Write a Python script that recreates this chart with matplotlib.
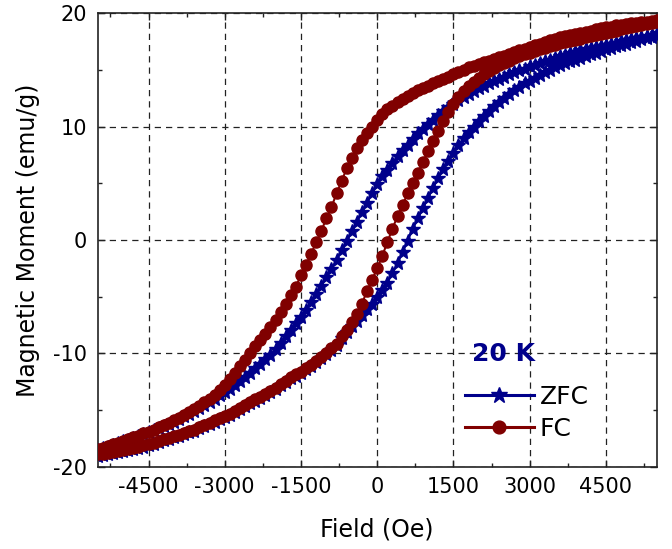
import matplotlib
matplotlib.use("Agg")
import matplotlib.pyplot as plt
from matplotlib.ticker import MultipleLocator
from matplotlib.lines import Line2D

# applied field setpoints (Oe), same sweep for both branches
field = list(range(-5500, 5501, 100))

# FC loop, branch swept from +5500 down to -5500 (listed against rising field)
fc_down = [
    -18.4, -18.3, -18.15, -18.0, -17.85, -17.7, -17.55, -17.4, -17.25, -17.05,
    -16.9, -16.7, -16.5, -16.3, -16.1, -15.9, -15.65, -15.4, -15.15, -14.9,
    -14.6, -14.3, -14.0, -13.65, -13.25, -12.8, -12.25, -11.7, -11.1, -10.55,
    -10.0, -9.35, -8.8, -8.25, -7.65, -7.05, -6.35, -5.6, -4.85, -4.1,
    -3.1, -2.2, -1.2, -0.2, 0.8, 1.9, 2.9, 4.1, 5.2, 6.3,
    7.2, 8.1, 8.8, 9.4, 10.0, 10.6, 11.1, 11.5, 11.85, 12.15,
    12.45, 12.7, 12.95, 13.2, 13.4, 13.6, 13.8, 14.0, 14.2, 14.4,
    14.6, 14.8, 15.0, 15.2, 15.35, 15.5, 15.65, 15.8, 15.95, 16.1,
    16.25, 16.4, 16.55, 16.7, 16.85, 17.0, 17.15, 17.3, 17.45, 17.6,
    17.75, 17.85, 17.95, 18.05, 18.15, 18.25, 18.35, 18.45, 18.55, 18.65,
    18.75, 18.8, 18.9, 18.95, 19.0, 19.1, 19.15, 19.2, 19.25, 19.3,
    19.4,
]

# FC loop, branch swept from -5500 up to +5500
fc_up = [
    -18.9, -18.85, -18.75, -18.7, -18.6, -18.5, -18.4, -18.3, -18.2, -18.1,
    -18.0, -17.85, -17.7, -17.55, -17.45, -17.3, -17.15, -17.0, -16.85, -16.7,
    -16.5, -16.3, -16.1, -15.9, -15.7, -15.5, -15.3, -15.05, -14.8, -14.55,
    -14.3, -14.05, -13.8, -13.55, -13.3, -13.0, -12.7, -12.4, -12.1, -11.85,
    -11.6, -11.3, -11.0, -10.65, -10.3, -9.95, -9.55, -9.15, -8.5, -7.9,
    -7.2, -6.5, -5.6, -4.5, -3.5, -2.5, -1.4, -0.2, 1.0, 2.1,
    3.1, 4.1, 5.0, 5.9, 6.9, 7.8, 8.7, 9.6, 10.5, 11.3,
    12.0, 12.6, 13.1, 13.55, 13.95, 14.3, 14.6, 14.9, 15.15, 15.4,
    15.6, 15.8, 16.0, 16.2, 16.35, 16.5, 16.65, 16.8, 16.95, 17.1,
    17.2, 17.35, 17.45, 17.55, 17.65, 17.75, 17.85, 17.95, 18.05, 18.15,
    18.25, 18.35, 18.45, 18.55, 18.65, 18.75, 18.85, 18.95, 19.05, 19.15,
    19.25,
]

# ZFC loop, descending branch
zfc_down = [
    -18.5, -18.35, -18.2, -18.05, -17.9, -17.75, -17.6, -17.45, -17.3, -17.1,
    -16.95, -16.75, -16.6, -16.4, -16.2, -16.0, -15.75, -15.55, -15.3, -15.05,
    -14.8, -14.55, -14.3, -14.0, -13.7, -13.4, -13.1, -12.75, -12.4, -12.05,
    -11.7, -11.3, -10.9, -10.5, -10.1, -9.6, -9.1, -8.5, -7.95, -7.35,
    -6.8, -6.15, -5.5, -4.8, -4.05, -3.3, -2.55, -1.75, -0.9, -0.1,
    0.75, 1.6, 2.5, 3.3, 4.1, 4.9, 5.6, 6.2, 6.8, 7.4,
    7.9, 8.4, 8.9, 9.4, 9.8, 10.2, 10.6, 11.0, 11.35, 11.7,
    12.0, 12.3, 12.6, 12.9, 13.15, 13.4, 13.6, 13.8, 14.0, 14.2,
    14.4, 14.6, 14.8, 14.95, 15.1, 15.3, 15.45, 15.6, 15.75, 15.9,
    16.05, 16.2, 16.3, 16.45, 16.55, 16.7, 16.8, 16.9, 17.0, 17.1,
    17.2, 17.3, 17.4, 17.5, 17.6, 17.7, 17.8, 17.9, 18.0, 18.1,
    18.2,
]

# ZFC loop, ascending branch
zfc_up = [
    -19.0, -18.95, -18.85, -18.8, -18.7, -18.6, -18.5, -18.4, -18.3, -18.2,
    -18.1, -17.95, -17.8, -17.65, -17.55, -17.4, -17.25, -17.1, -16.95, -16.8,
    -16.6, -16.4, -16.2, -16.0, -15.8, -15.6, -15.4, -15.15, -14.9, -14.65,
    -14.4, -14.15, -13.9, -13.65, -13.4, -13.1, -12.8, -12.5, -12.2, -11.95,
    -11.7, -11.4, -11.1, -10.75, -10.4, -10.05, -9.65, -9.25, -8.65, -8.1,
    -7.6, -7.1, -6.6, -6.1, -5.6, -5.05, -4.45, -3.75, -2.95, -2.05,
    -1.05, -0.05, 0.95, 1.9, 2.8, 3.7, 4.6, 5.45, 6.25, 7.0,
    7.7, 8.35, 8.95, 9.5, 10.0, 10.5, 10.95, 11.4, 11.8, 12.2,
    12.55, 12.9, 13.2, 13.5, 13.8, 14.05, 14.3, 14.55, 14.8, 15.0,
    15.2, 15.4, 15.6, 15.75, 15.9, 16.05, 16.2, 16.35, 16.5, 16.65,
    16.8, 16.95, 17.05, 17.2, 17.3, 17.45, 17.55, 17.7, 17.8, 17.9,
    18.0,
]

x_ticks = [-4500, -3000, -1500, 0, 1500, 3000, 4500]
y_ticks = [-20, -10, 0, 10, 20]

zfc_color = "#00008b"
fc_color = "#800000"

plt.rcParams["font.family"] = "DejaVu Sans"
plt.rcParams["axes.unicode_minus"] = False

fig = plt.figure(figsize=(6.72, 5.49), dpi=100)
ax = fig.add_axes([0.1454, 0.1494, 0.8318, 0.8269])

# full loops: down sweep followed by up sweep
loop_x = field[::-1] + field
zfc_y = zfc_down[::-1] + zfc_up
fc_y = fc_down[::-1] + fc_up

ax.plot(loop_x, zfc_y, color=zfc_color, lw=1.5, marker="*", ms=10.5,
        mec=zfc_color, mfc=zfc_color, zorder=3)
ax.plot(loop_x, fc_y, color=fc_color, lw=1.5, marker="o", ms=8,
        mec=fc_color, mfc=fc_color, zorder=4)

ax.set_xlim(-5500, 5500)
ax.set_ylim(-20, 20)
ax.set_xticks(x_ticks)
ax.set_yticks(y_ticks)
ax.xaxis.set_minor_locator(MultipleLocator(750))
ax.yaxis.set_minor_locator(MultipleLocator(5))

ax.grid(True, which="major", color="#222222", lw=0.9, linestyle=(0, (5, 4)))
ax.tick_params(which="both", direction="in", top=True, right=True,
               labelsize=15, width=1.0, color="#222222", pad=7.5)
ax.tick_params(which="major", length=5)
ax.tick_params(which="minor", length=3)
for sp in ax.spines.values():
    sp.set_linewidth(1.2)
    sp.set_color("#222222")

ax.set_xlabel("Field (Oe)", fontsize=17)
ax.set_ylabel("Magnetic Moment (emu/g)", fontsize=17)
ax.xaxis.set_label_coords(0.5, -0.112)
ax.yaxis.set_label_coords(-0.103, 0.5)

ax.text(0.669, 0.234, "20 K", transform=ax.transAxes, fontsize=18,
        fontweight="bold", color=zfc_color, ha="left", va="baseline")

handles = [
    Line2D([], [], color=zfc_color, lw=2.2, marker="*", ms=12, mec=zfc_color),
    Line2D([], [], color=fc_color, lw=2.2, marker="o", ms=9.2, mec=fc_color),
]
ax.legend(handles, ["ZFC", "FC"], loc="upper left",
          bbox_to_anchor=(465 / 672, 1 - 385 / 549),
          bbox_transform=fig.transFigure, frameon=False, fontsize=18,
          handlelength=2.75, handletextpad=0.25, labelspacing=0.32,
          borderpad=0, borderaxespad=0)

fig.savefig("out.png", dpi=100)
